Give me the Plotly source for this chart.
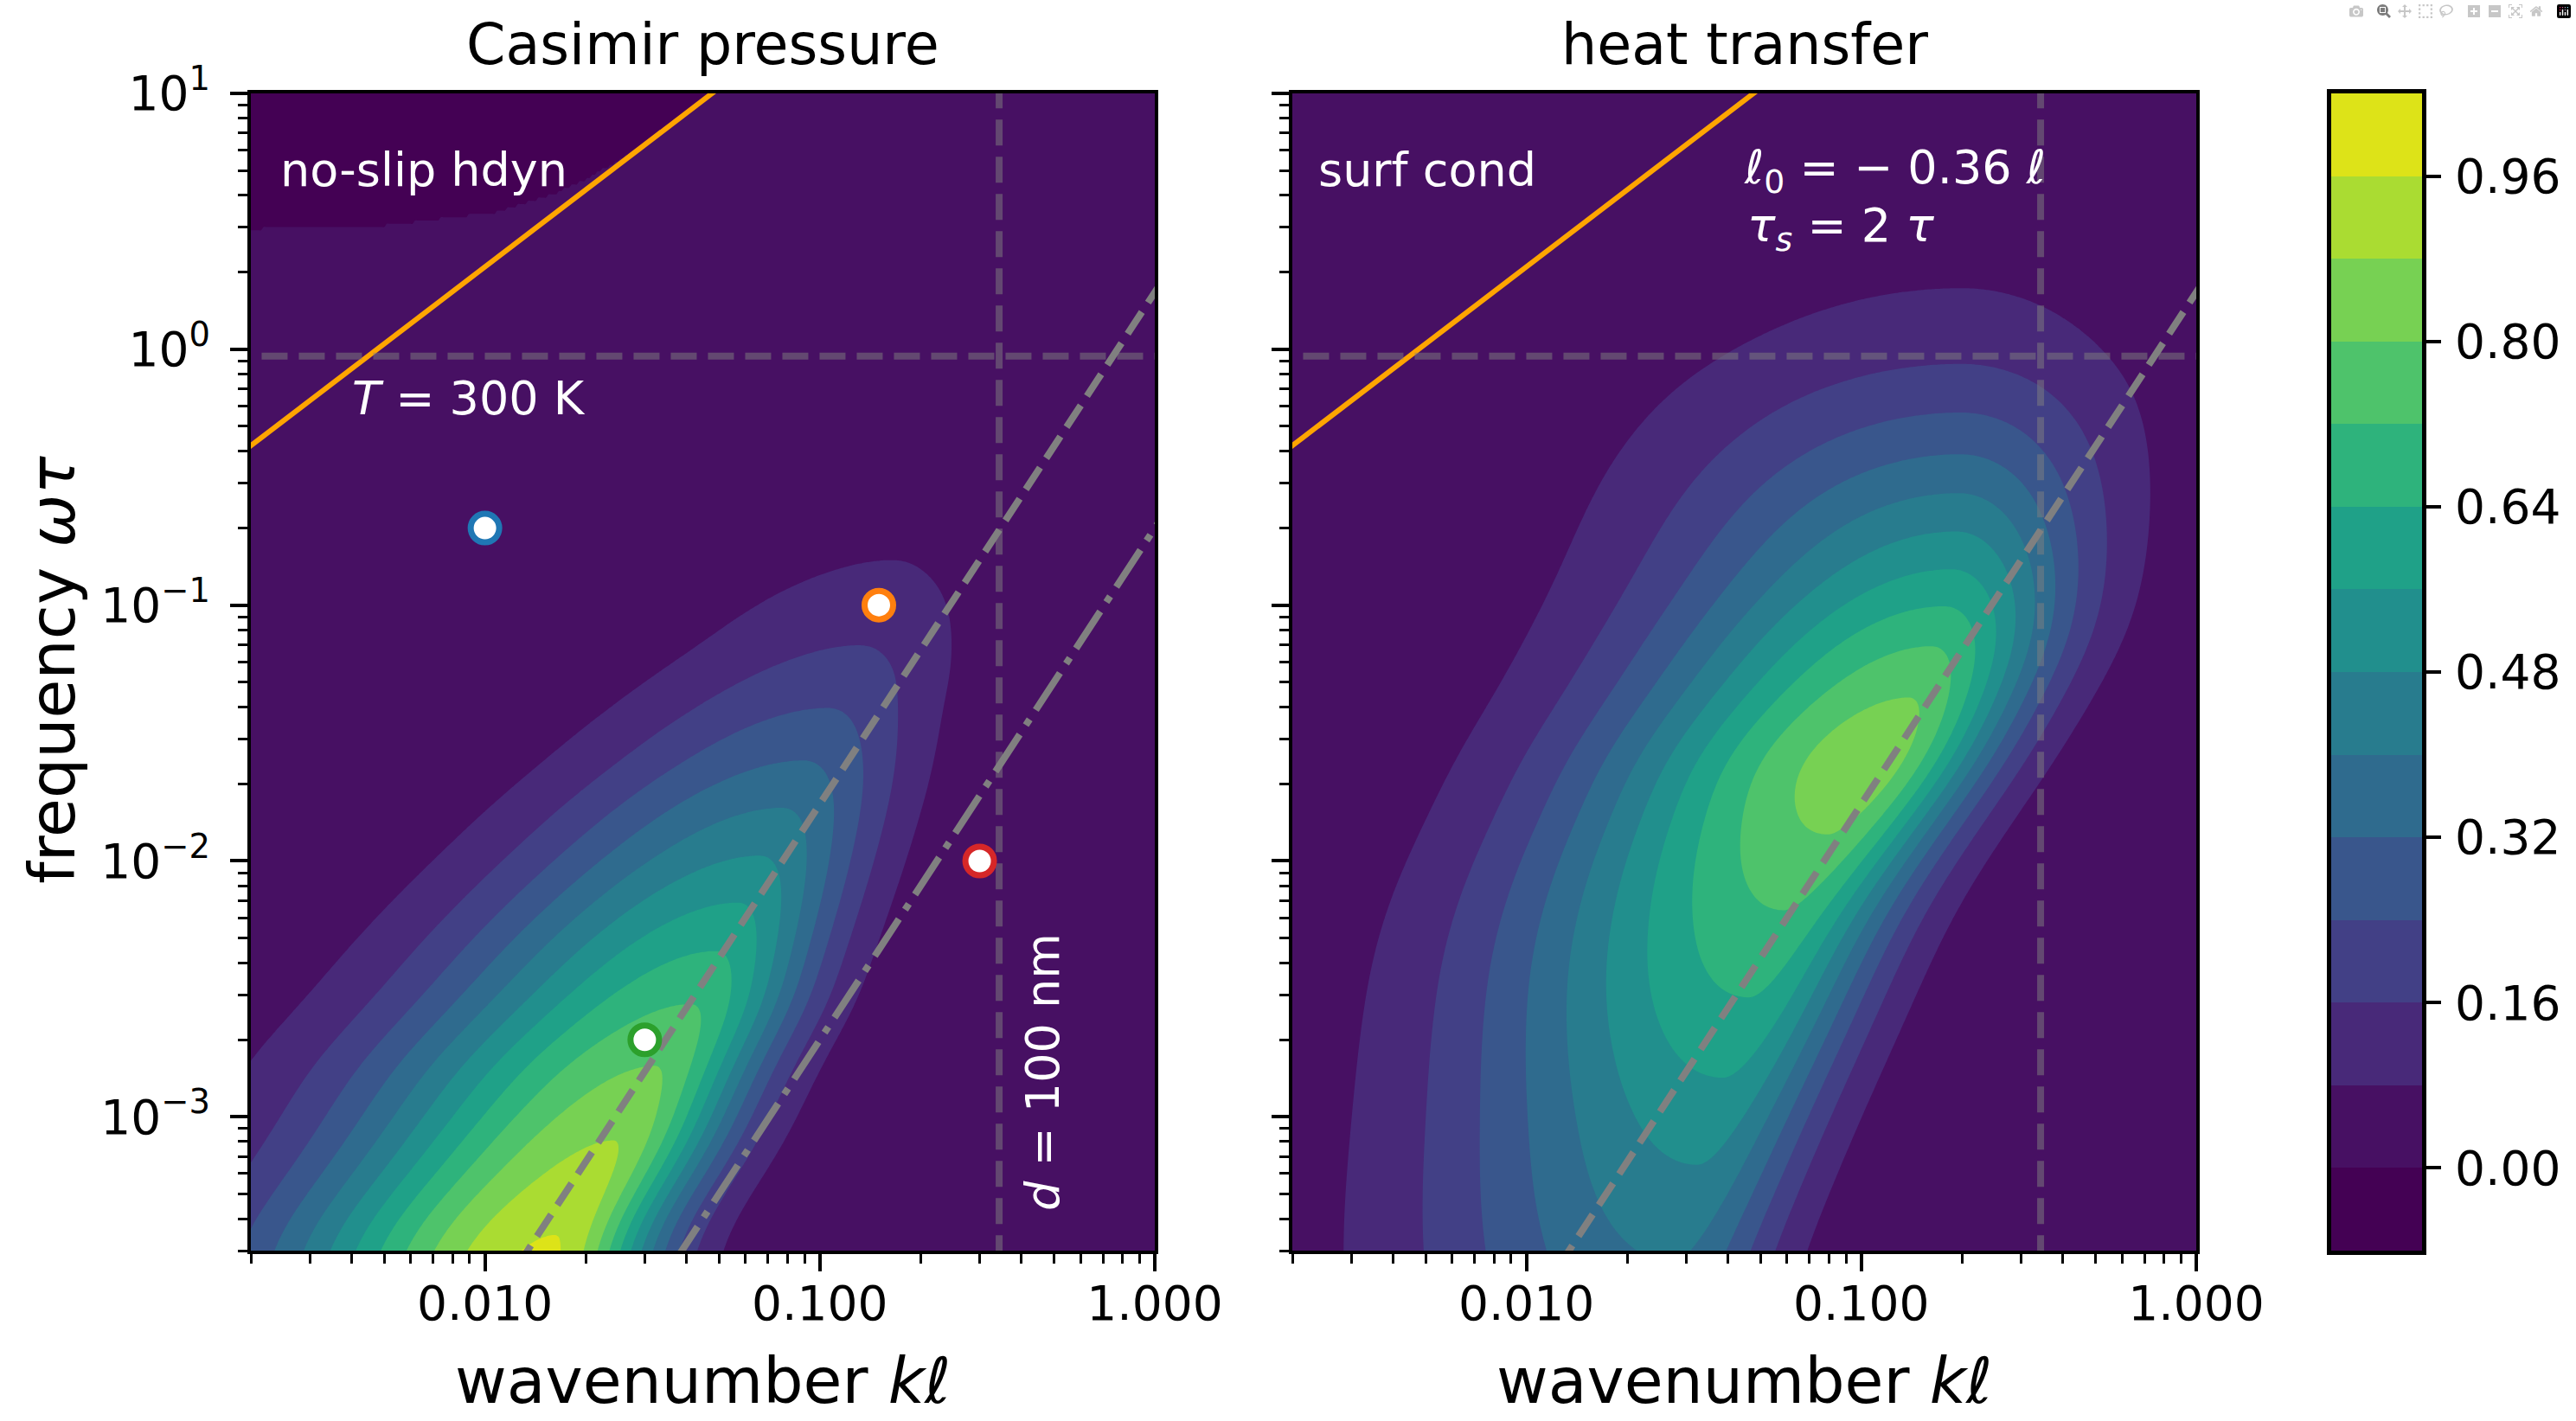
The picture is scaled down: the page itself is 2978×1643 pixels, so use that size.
import numpy as np
import plotly.graph_objects as go

W, H = 2978, 1643
FONT = "DejaVu Sans"

# ---------------- axes ranges (log10) ----------------
LOG_K_RANGE = [np.log10(0.002), 0.0]
LOG_W_RANGE = [np.log10(3e-4), 1.0]
X_TICKS = [0.01, 0.1, 1.0]
X_TICKTEXT = ["0.010", "0.100", "1.000"]
Y_TICKS = [1e-3, 1e-2, 1e-1, 1e0, 1e1]
Y_TICKTEXT = ["10<sup>\u22123</sup>", "10<sup>\u22122</sup>", "10<sup>\u22121</sup>",
              "10<sup>0</sup>", "10<sup>1</sup>"]

# ---------------- contour levels / colours ----------------
LEVEL_START, LEVEL_END, LEVEL_STEP = 0.0, 0.96, 0.08
BAND_CENTERS = [-0.04, 0.04, 0.12, 0.20, 0.28, 0.36, 0.44, 0.52,
                0.60, 0.68, 0.76, 0.84, 0.92, 1.00]
BAND_COLORS = ["#440154", "#471063", "#482979", "#424086", "#39568c", "#2f6b8e",
               "#287c8e", "#218f8d", "#1fa188", "#2eb37c", "#4ec36b", "#77d153",
               "#aadc32", "#dde318"]
CBAR_TICKS = [0.00, 0.16, 0.32, 0.48, 0.64, 0.80, 0.96]
CBAR_TICKTEXT = ["0.00", "0.16", "0.32", "0.48", "0.64", "0.80", "0.96"]

# ---------------- reference lines ----------------
LIGHT_CONE = 210.0       # omega*tau = 210 * k*l   (orange)
DIFF_DASHED = 1.67       # omega*tau = 1.67 (k l)^2 (grey dashed)
DIFF_DASHDOT = 0.20      # omega*tau = 0.20 (k l)^2 (grey dash-dot)
OMEGA_THERMAL = 0.94     # T = 300 K
K_GAP = 0.343            # d = 100 nm
LINE_K = [0.001, 1.2]

# ---------------- markers (left panel) ----------------
MARK_K = [0.01, 0.15, 0.03, 0.30]
MARK_W = [0.2, 0.1, 0.002, 0.01]
MARK_COLORS = ["#1f77b4", "#ff7f0e", "#2ca02c", "#d62728"]

# ---------------- Casimir pressure spectrum (left) ----------------
CAS_V = [-3.70, -3.455, -3.086, -2.796, -2.555, -2.35, -2.162, -1.98, -1.791,
         -1.61, -1.406, -1.164, -0.839, -0.50, 0.00, 1.20]
CAS_A = [1.00, 0.96, 0.88, 0.80, 0.72, 0.64, 0.56, 0.48, 0.40,
         0.32, 0.24, 0.16, 0.08, 0.035, 0.01, 0.0]
CAS_U = [-1.85, -1.80, -1.609, -1.495, -1.377, -1.311, -1.245, -1.18, -1.114,
         -1.048, -0.983, -0.878, -0.786, -0.70, -0.55, -0.30]
CAS_WL_V = [-3.70, -2.75, -2.20, -1.72, -1.18, -0.50, 1.20]
CAS_WL = [0.77, 0.81, 0.75, 0.68, 0.58, 0.50, 0.50]
CAS_WR_V = [-3.70, -1.50, 1.20]
CAS_WR = [0.33, 0.33, 0.33]
# slightly negative region (top left, above light cone)
NEG_EDGE_U = [-2.75, -2.30, -1.96, -1.80, -1.70, -1.60, -1.40, 0.10]
NEG_EDGE_V = [0.475, 0.49, 0.543, 0.61, 0.67, 0.746, 0.90, 1.50]
NEG_DEPTH = -0.03

# ---------------- heat transfer spectrum (right) ----------------
HT_V = [-3.70, -3.00, -2.50, -2.18, -1.90, -1.60, -1.35, -1.14, -0.90, -0.60,
        -0.30, 0.00, 0.22, 0.60, 1.20]
HT_A = [0.37, 0.52, 0.65, 0.72, 0.80, 0.88, 0.80, 0.72, 0.58, 0.42,
        0.26, 0.13, 0.08, 0.02, 0.0]
HT_U = [-1.60, -1.45, -1.33, -1.25, -1.10, -0.95, -0.85, -0.76, -0.72, -0.71,
        -0.70, -0.70, -0.70, -0.70, -0.70]
HT_WL_V = [-3.70, -2.20, -1.60, -0.30, 0.10, 1.20]
HT_WL = [0.77, 0.80, 0.81, 0.86, 0.94, 0.94]
HT_WR_V = [-3.70, -2.20, -1.60, -0.30, 0.10, 1.20]
HT_WR = [0.30, 0.36, 0.33, 0.47, 0.62, 0.62]

# ---------------- build fields ----------------
u = np.linspace(-2.73, 0.03, 361)
v = np.linspace(-3.56, 1.04, 361)
U, V = np.meshgrid(u, v)
dv = v[1] - v[0]
v_ext = np.arange(-4.6, 2.2, dv)


def smooth_profile(tv, ty, sigma):
    y = np.interp(v_ext, tv, ty)
    half = int(4 * sigma / dv)
    kx = np.arange(-half, half + 1) * dv
    ker = np.exp(-0.5 * (kx / sigma) ** 2)
    ker /= ker.sum()
    ypad = np.concatenate([np.full(half, y[0]), y, np.full(half, y[-1])])
    ys = np.convolve(ypad, ker, mode="valid")
    return np.interp(V, v_ext, ys)


def ridge_field(rv, ra, ru, wlv, wl, wrv, wr, sigma_a, sigma_u):
    A = smooth_profile(rv, ra, sigma_a)
    ur = smooth_profile(rv, ru, sigma_u)
    wL = smooth_profile(wlv, wl, sigma_u * 1.5)
    wR = smooth_profile(wrv, wr, sigma_u * 1.5)
    d = U - ur
    w = np.where(d < 0, wL, wR)
    return A * np.exp(-(d / w) ** 2)


Z_cas = ridge_field(CAS_V, CAS_A, CAS_U, CAS_WL_V, CAS_WL, CAS_WR_V, CAS_WR, 0.06, 0.10)
v_light = np.log10(LIGHT_CONE) + U
b_edge = np.interp(U, NEG_EDGE_U, NEG_EDGE_V)
dneg = np.minimum(V - b_edge, V - v_light)
Z_cas = Z_cas + NEG_DEPTH * np.clip(np.tanh(dneg / 0.05), 0, None)

Z_ht = ridge_field(HT_V, HT_A, HT_U, HT_WL_V, HT_WL, HT_WR_V, HT_WR, 0.12, 0.22)

K = 10 ** u
OM = 10 ** v

# step colourscale: region j sampled at j/13
n = len(BAND_COLORS) - 1
cscale = []
for j, c in enumerate(BAND_COLORS):
    lo = max(0.0, (j - 0.5) / n)
    hi = min(1.0, (j + 0.5) / n)
    cscale.append([lo, c])
    cscale.append([hi, c])

m = len(BAND_COLORS)
cb_scale = []
for j, c in enumerate(BAND_COLORS):
    cb_scale.append([j / m, c])
    cb_scale.append([(j + 1) / m, c])

fig = go.Figure()

for Z, xa, ya in [(Z_cas, "x", "y"), (Z_ht, "x2", "y2")]:
    fig.add_trace(go.Contour(
        x=K, y=OM, z=Z, xaxis=xa, yaxis=ya,
        autocontour=False,
        contours=dict(start=LEVEL_START, end=LEVEL_END, size=LEVEL_STEP,
                      coloring="fill", showlines=False),
        line=dict(width=0),
        colorscale=cscale, zauto=False, zmin=-0.08, zmax=1.04,
        showscale=False, hoverinfo="skip"))

LK = np.array(LINE_K)
for xa, ya, left in [("x", "y", True), ("x2", "y2", False)]:
    fig.add_trace(go.Scatter(x=LK, y=LIGHT_CONE * LK, xaxis=xa, yaxis=ya, mode="lines",
                             line=dict(color="#ffa500", width=6), hoverinfo="skip"))
    fig.add_trace(go.Scatter(x=LK, y=[OMEGA_THERMAL, OMEGA_THERMAL], xaxis=xa, yaxis=ya,
                             mode="lines",
                             line=dict(color="rgba(128,128,128,0.5)", width=8, dash="30px,13px"),
                             hoverinfo="skip"))
    fig.add_trace(go.Scatter(x=[K_GAP, K_GAP], y=[1e-4, 20], xaxis=xa, yaxis=ya, mode="lines",
                             line=dict(color="rgba(128,128,128,0.5)", width=8, dash="30px,13px"),
                             hoverinfo="skip"))
    fig.add_trace(go.Scatter(x=LK, y=DIFF_DASHED * LK ** 2, xaxis=xa, yaxis=ya, mode="lines",
                             line=dict(color="#808080", width=8, dash="30px,13px"),
                             hoverinfo="skip"))
    if left:
        fig.add_trace(go.Scatter(x=LK, y=DIFF_DASHDOT * LK ** 2, xaxis=xa, yaxis=ya, mode="lines",
                                 line=dict(color="#808080", width=8, dash="51px,13px,8px,13px"),
                                 hoverinfo="skip"))
        fig.add_trace(go.Scatter(x=MARK_K, y=MARK_W, xaxis=xa, yaxis=ya, mode="markers",
                                 marker=dict(size=33, color="white",
                                             line=dict(color=MARK_COLORS, width=7)),
                                 hoverinfo="skip"))

fig.add_trace(go.Heatmap(x=[0], y=BAND_CENTERS, z=[[j] for j in range(m)],
                         xaxis="x3", yaxis="y3", colorscale=cb_scale,
                         zmin=0, zmax=m, showscale=False, hoverinfo="skip"))

X0L, X1L = 290 / W, 1335 / W
X0R, X1R = 1494 / W, 2539 / W
Y0, Y1 = 1 - 1446 / H, 1 - 108 / H

minor_x = [mm * 10.0 ** e for e in (-3, -2, -1) for mm in range(2, 10)]
minor_y = [mm * 10.0 ** e for e in (-4, -3, -2, -1, 0) for mm in range(2, 10)]
minor_y = [t for t in minor_y if t >= 2.99e-4]

tickfont = dict(family=FONT, size=55, color="black")


def xaxis(dom, anchor):
    return dict(type="log", range=LOG_K_RANGE, domain=dom, anchor=anchor,
                automargin=False,
                tickmode="array", tickvals=X_TICKS, ticktext=X_TICKTEXT,
                ticks="outside", ticklen=20, tickwidth=4, tickcolor="black",
                showline=True, linecolor="black", linewidth=4, mirror=True,
                showgrid=False, zeroline=False, tickfont=tickfont,
                ticklabelstandoff=-10,
                minor=dict(tickmode="array", tickvals=minor_x, ticks="outside",
                           ticklen=11, tickwidth=3, tickcolor="black", showgrid=False))


def yaxis(anchor, labels):
    return dict(type="log", range=LOG_W_RANGE, domain=[Y0, Y1], anchor=anchor,
                automargin=False,
                tickmode="array", tickvals=Y_TICKS, ticktext=Y_TICKTEXT,
                showticklabels=labels,
                ticks="outside", ticklen=20, tickwidth=4, tickcolor="black",
                showline=True, linecolor="black", linewidth=4, mirror=True,
                showgrid=False, zeroline=False, tickfont=tickfont,
                ticklabelstandoff=12,
                minor=dict(tickmode="array", tickvals=minor_y, ticks="outside",
                           ticklen=11, tickwidth=3, tickcolor="black", showgrid=False))


fig.update_layout(
    width=W, height=H, autosize=False,
    margin=dict(l=0, r=0, t=0, b=0, pad=0, autoexpand=False),
    paper_bgcolor="white", plot_bgcolor="white",
    showlegend=False,
    font=dict(family=FONT, color="black"),
    xaxis=xaxis([X0L, X1L], "y"),
    yaxis=yaxis("x", True),
    xaxis2=xaxis([X0R, X1R], "y2"),
    yaxis2=yaxis("x2", False),
    xaxis3=dict(domain=[2695 / W, 2800 / W], anchor="y3", range=[-0.5, 0.5],
                automargin=False,
                showticklabels=False, ticks="", showgrid=False, zeroline=False,
                showline=True, linecolor="black", linewidth=5, mirror=True),
    yaxis3=dict(domain=[1 - 1446 / H, 1 - 108 / H], anchor="x3", side="right",
                automargin=False,
                range=[-0.08, 1.04], tickmode="array", tickvals=CBAR_TICKS,
                ticktext=CBAR_TICKTEXT, ticks="outside", ticklen=17, tickwidth=4,
                tickcolor="black", showgrid=False, zeroline=False,
                showline=True, linecolor="black", linewidth=5, mirror=True,
                tickfont=tickfont, ticklabelstandoff=5),
)


def px(x):
    return x / W


def py(y):
    return 1 - y / H


anns = [
    dict(text="Casimir pressure", x=px(812.5), y=py(51), size=65, color="black"),
    dict(text="heat transfer", x=px(2016.5), y=py(51), size=65, color="black"),
    dict(text="wavenumber <i>k\u2113</i>", x=px(812.5), y=py(1596), size=73, color="black"),
    dict(text="wavenumber <i>k\u2113</i>", x=px(2016.5), y=py(1596), size=73, color="black"),
    dict(text="frequency <i>\u03c9\u03c4</i>", x=px(60), y=py(775), size=73, color="black",
         angle=-90),
    dict(text="no-slip hdyn", x=px(322), y=py(197), size=54, color="white", xanchor="left"),
    dict(text="<i>T</i> = 300 K", x=px(405), y=py(460), size=54, color="white", xanchor="left"),
    dict(text="<i>d</i> = 100 nm", x=px(1205), y=py(1240), size=54, color="white", angle=-90),
    dict(text="surf cond", x=px(1522), y=py(197), size=54, color="white", xanchor="left"),
    dict(text="<i>\u2113</i><sub>0</sub> = \u2212 0.36 <i>\u2113</i>", x=px(2014), y=py(197),
         size=54, color="white", xanchor="left"),
    dict(text="<i>\u03c4<sub>s</sub></i> = 2 <i>\u03c4</i>", x=px(2018), y=py(264),
         size=54, color="white", xanchor="left"),
]
for a in anns:
    fig.add_annotation(text=a["text"], x=a["x"], y=a["y"], xref="paper", yref="paper",
                       xanchor=a.get("xanchor", "center"), yanchor="middle",
                       textangle=a.get("angle", 0), showarrow=False,
                       font=dict(family=FONT, size=a["size"], color=a["color"]))

fig.write_html("out.html", post_script="document.body.style.margin='0px';")
